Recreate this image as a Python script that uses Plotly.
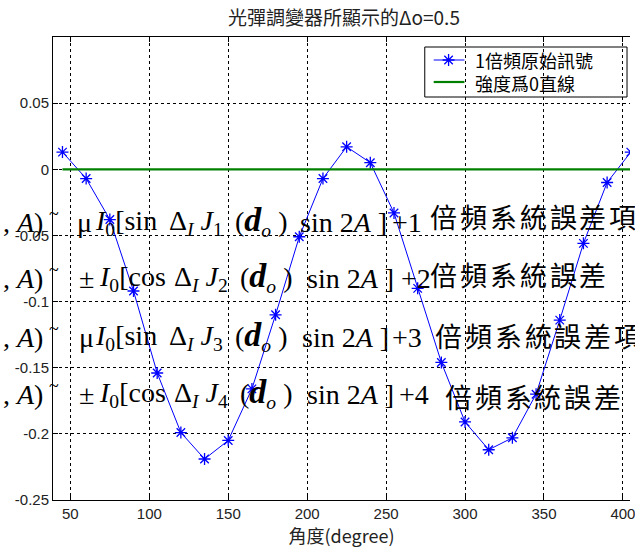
import plotly.graph_objects as go

# ---- data ----
angles = [45, 60, 75, 90, 105, 120, 135, 150, 165, 180, 195, 210, 225,
          240, 255, 270, 285, 300, 315, 330, 345, 360, 375, 390, 405]
signal = [0.013, -0.007, -0.038, -0.092, -0.154, -0.199, -0.219, -0.205,
          -0.166, -0.110, -0.051, -0.007, 0.017, 0.005, -0.033, -0.090,
          -0.146, -0.191, -0.212, -0.203, -0.170, -0.114, -0.056, -0.010, 0.013]
zero_x = [45, 405]
zero_y = [0, 0]

x_ticks = [50, 100, 150, 200, 250, 300, 350, 400]
y_ticks = [-0.25, -0.2, -0.15, -0.1, -0.05, 0, 0.05]
y_ticklabels = ["-0.25", "-0.2", "-0.15", "-0.1", "-0.05", "0", "0.05"]

title_text = "光彈調變器所顯示的Δo=0.5"
xlabel = "角度(degree)"
legend_names = ["1倍頻原始訊號", "強度爲0直線"]

# overlay formula lines (split into pieces)
orders = ["1", "2", "3", "4"]
lead = ["μ", "±", "μ", "±"]
trig = ["sin", "cos", "sin", "cos"]
formula_left = [", <i>A</i>)"] * 4
formula_p1 = [f"<i>I</i><sub>0</sub>[{trig[i]}" for i in range(4)]
formula_p2 = [f"Δ<sub><i>I</i></sub> <i>J</i><sub>{orders[i]}</sub>" for i in range(4)]
formula_p3 = ['(<span style="font-size:34px"><b><i>d</i></b></span><sub><i>o</i></sub> )'] * 4
formula_p4 = ["sin 2<i>A</i> ]"] * 4
formula_plus = [f"+{orders[i]}" for i in range(4)]
formula_cjk = ["倍頻系統誤差項", "倍頻系統誤差", "倍頻系統誤差項", "倍頻系統誤差"]

# ---- layout geometry (pixels) ----
W, H = 635, 549
L, R, T, B = 53, 0, 37, 49
pw, ph = W - L - R, H - T - B


def px(x):
    return (x - L) / pw


def py(y):
    return (H - B - y) / ph


fig = go.Figure()
fig.add_trace(go.Scatter(
    x=angles, y=signal, mode="lines+markers", name=legend_names[0],
    line=dict(color="#0000FF", width=1), showlegend=False,
    marker=dict(symbol="asterisk-open", size=10, color="#0000FF",
                line=dict(color="#0000FF", width=1.3)),
))
fig.add_trace(go.Scatter(
    x=zero_x, y=zero_y, mode="lines", name=legend_names[1], showlegend=False,
    line=dict(color="#008000", width=2.2),
))
# legend sample marker (drawn on an overlay axis in plot-area fractions)
fig.add_trace(go.Scatter(
    x=[px(452)], y=[py(60)], mode="markers", xaxis="x2", yaxis="y2",
    showlegend=False, hoverinfo="skip", cliponaxis=False,
    marker=dict(symbol="asterisk-open", size=10, color="#0000FF",
                line=dict(color="#0000FF", width=1.3)),
))

serif = "Liberation Serif, Times New Roman, serif"
cjk = "Noto Sans CJK TC"
FS = 28
baselines = [230, 286, 345, 402]
cjk_centers = [218.5, 275.5, 336.5, 397.5]
p0_x = [75, 77, 77, 77]
p1_x = [93, 97, 93, 97]
p2_x = [168, 173, 168, 173]
p3_x = [235, 240, 235, 240]
p4_x = [300, 307, 302, 307]
plus_x = [393, 402, 393, 400]
cjk_x = [431, 431, 436, 446]
cjk_pitch = 30.2


def add(text, x, y, anchor="left", family=serif, size=FS):
    return dict(text=text, x=px(x), y=py(y), xref="paper", yref="paper",
                xanchor=anchor, yanchor="middle", showarrow=False,
                font=dict(family=family, size=size, color="black"))


ann = []
for i in range(4):
    yc = baselines[i] - 8
    ann.append(add(formula_left[i], 45, yc, anchor="right"))
    ann.append(add("~", 54, baselines[i] - 16, anchor="center", size=18))
    ann.append(add(lead[i], p0_x[i], yc))
    ann.append(add(formula_p1[i], p1_x[i], yc))
    ann.append(add(formula_p2[i], p2_x[i], yc))
    ann.append(add(formula_p3[i], p3_x[i], yc - 1))
    ann.append(add(formula_p4[i], p4_x[i], yc))
    ann.append(add(formula_plus[i], plus_x[i], yc))
    for k, ch in enumerate(formula_cjk[i]):
        ann.append(add(ch, cjk_x[i] + k * cjk_pitch, cjk_centers[i] - 1.5,
                       family=cjk, size=27))

# hand-drawn legend (box, sample lines, labels)
shapes = [
    dict(type="rect", xref="paper", yref="paper", x0=px(428), x1=px(632),
         y0=py(97), y1=py(47), line=dict(color="black", width=1),
         fillcolor="white", layer="between"),
    dict(type="line", xref="paper", yref="paper", x0=px(437), x1=px(468),
         y0=py(60), y1=py(60), line=dict(color="#0000FF", width=1), layer="between"),
    dict(type="line", xref="paper", yref="paper", x0=px(437), x1=px(468),
         y0=py(82), y1=py(82), line=dict(color="#008000", width=2.2), layer="between"),
]
ann.append(add(legend_names[0], 477, 60, family=cjk, size=18))
ann.append(add(legend_names[1], 477, 83, family=cjk, size=18))

fig.update_layout(
    width=W, height=H,
    margin=dict(l=L, r=R, t=T, b=B),
    paper_bgcolor="white", plot_bgcolor="white",
    title=dict(text=title_text, x=(L + 635) / 2 / W, xanchor="center",
               y=1 - 18 / H, yanchor="middle",
               font=dict(family=cjk, size=19, color="#222")),
    xaxis=dict(range=[39, 404.5], tickvals=x_ticks, ticks="inside", ticklen=5,
               tickcolor="black", showline=True, linecolor="black", linewidth=1,
               mirror="ticks", showgrid=True, gridcolor="black", griddash="3px,3px",
               gridwidth=1, zeroline=False, ticklabeloverflow="allow",
               tickfont=dict(family="Liberation Sans, Arial", size=15, color="#222"),
               title=dict(text=xlabel, font=dict(family=cjk, size=18, color="#222"), standoff=2)),
    yaxis=dict(range=[-0.25, 0.1], tickvals=y_ticks, ticktext=y_ticklabels,
               ticks="inside", ticklen=5, tickcolor="black", showline=True,
               linecolor="black", linewidth=1, mirror=False, showgrid=True,
               gridcolor="black", griddash="3px,3px", gridwidth=1, zeroline=False,
               tickfont=dict(family="Liberation Sans, Arial", size=15, color="#222")),
    xaxis2=dict(overlaying="x", range=[0, 1], visible=False, fixedrange=True),
    yaxis2=dict(overlaying="y", range=[0, 1], visible=False, fixedrange=True),
    shapes=shapes,
    annotations=ann,
    showlegend=False,
)

fig.write_html("out.html")
